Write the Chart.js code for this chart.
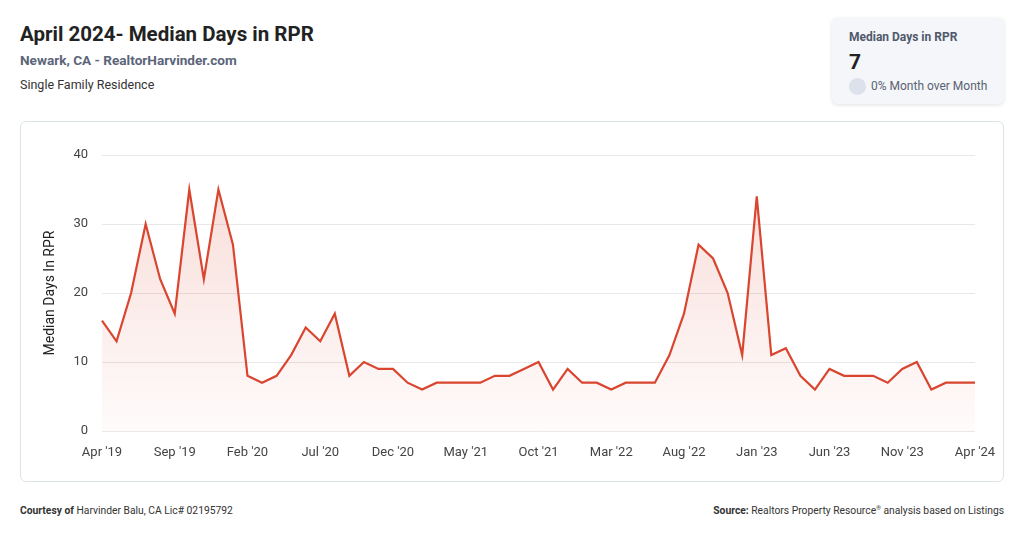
<!DOCTYPE html>
<html>
<head>
<meta charset="utf-8">
<script src="https://cdn.jsdelivr.net/npm/chart.js@4"></script>
<style>
  body { margin: 0; width: 1024px; height: 537px; background: #fff; font-family: Roboto, "Open Sans", sans-serif; position: relative; overflow: hidden; }
  .title { position: absolute; left: 20px; top: 22px; font-size: 20.5px; font-weight: 700; color: #222; }
  .sub { position: absolute; left: 20px; top: 52px; font-size: 13.6px; font-weight: 700; color: #5b6579; }
  .type { position: absolute; left: 20px; top: 77px; font-size: 12.5px; color: #333; }
  .card { position: absolute; left: 832px; top: 18px; width: 172px; height: 86px; background: #f4f6f9; border-radius: 6px; box-shadow: 0 1px 4px rgba(0,0,0,0.12); }
  .card .h { position: absolute; left: 17px; top: 12px; font-size: 12px; font-weight: 700; color: #4f596b; }
  .card .v { position: absolute; left: 17px; top: 32px; font-size: 21px; font-weight: 700; color: #222; }
  .card .dot { position: absolute; left: 17px; top: 60px; width: 17px; height: 17px; border-radius: 50%; background: #dde1ec; }
  .card .m { position: absolute; left: 39px; top: 61px; font-size: 12px; color: #5a6273; }
  .box { position: absolute; left: 20px; top: 121px; width: 982px; height: 359px; border: 1px solid #dde5e4; border-radius: 6px; }
  .wrap { position: absolute; left: 20px; top: 121px; width: 984px; height: 361px; }
  .foot { position: absolute; top: 504px; font-size: 10.3px; color: #333; }
</style>
</head>
<body>
<div class="title">April 2024- Median Days in RPR</div>
<div class="sub">Newark, CA - RealtorHarvinder.com</div>
<div class="type">Single Family Residence</div>
<div class="card">
  <div class="h">Median Days in RPR</div>
  <div class="v">7</div>
  <div class="dot"></div>
  <div class="m">0% Month over Month</div>
</div>
<div class="box"></div>
<div class="wrap"><canvas id="daysChart"></canvas></div>
<div class="foot" style="left:20px"><b>Courtesy of</b> Harvinder Balu, CA Lic# 02195792</div>
<div class="foot" style="right:20px"><b>Source:</b> Realtors Property Resource<sup style="font-size:6px">®</sup> analysis based on Listings</div>
<script>
const months = [
  "Apr '19", "May '19", "Jun '19", "Jul '19", "Aug '19", "Sep '19", "Oct '19", "Nov '19", "Dec '19",
  "Jan '20", "Feb '20", "Mar '20", "Apr '20", "May '20", "Jun '20", "Jul '20", "Aug '20", "Sep '20", "Oct '20", "Nov '20", "Dec '20",
  "Jan '21", "Feb '21", "Mar '21", "Apr '21", "May '21", "Jun '21", "Jul '21", "Aug '21", "Sep '21", "Oct '21", "Nov '21", "Dec '21",
  "Jan '22", "Feb '22", "Mar '22", "Apr '22", "May '22", "Jun '22", "Jul '22", "Aug '22", "Sep '22", "Oct '22", "Nov '22", "Dec '22",
  "Jan '23", "Feb '23", "Mar '23", "Apr '23", "May '23", "Jun '23", "Jul '23", "Aug '23", "Sep '23", "Oct '23", "Nov '23", "Dec '23",
  "Jan '24", "Feb '24", "Mar '24", "Apr '24"
];
const medianDays = [
  16, 13, 20, 30, 22, 17, 35, 22, 35,
  27, 8, 7, 8, 11, 15, 13, 17, 8, 10, 9, 9,
  7, 6, 7, 7, 7, 7, 8, 8, 9, 10, 6, 9,
  7, 7, 6, 7, 7, 7, 11, 17, 27, 25, 20, 11,
  34, 11, 12, 8, 6, 9, 8, 8, 8, 7, 9, 10,
  6, 7, 7, 7
];
const yTicks = [0, 10, 20, 30, 40];

const ctx = document.getElementById("daysChart").getContext("2d");
const daysChart = new Chart(ctx, {
  type: "line",
  data: {
    labels: months,
    datasets: [{
      label: "Median Days In RPR",
      data: medianDays,
      borderColor: "#d9452f",
      borderWidth: 2.2,
      pointRadius: 0,
      tension: 0,
      fill: true,
      backgroundColor: (c) => {
        const area = c.chart.chartArea;
        if (!area) return "rgba(217,69,47,0.1)";
        const g = c.chart.ctx.createLinearGradient(0, area.top, 0, area.bottom);
        g.addColorStop(0, "rgba(217,69,47,0.2)");
        g.addColorStop(1, "rgba(217,69,47,0.02)");
        return g;
      }
    }]
  },
  options: {
    responsive: true,
    maintainAspectRatio: false,
    animation: false,
    layout: { padding: { top: 34, right: 29, bottom: 0, left: 0 } },
    plugins: { legend: { display: false }, tooltip: { enabled: false } },
    scales: {
      x: {
        afterFit: (s) => { s.height = 51; },
        grid: { display: false },
        border: { display: false },
        ticks: {
          autoSkip: false,
          maxRotation: 0,
          padding: 6,
          color: "#444",
          font: { family: "Roboto", size: 13 },
          callback: (v, i) => (i % 5 === 0 ? months[i] : "")
        }
      },
      y: {
        min: 0,
        max: 40,
        afterFit: (s) => { s.width = 82; },
        afterBuildTicks: (s) => { s.ticks = yTicks.map((v) => ({ value: v })); },
        grid: { color: "#e8e8e8", drawTicks: false },
        border: { display: false },
        ticks: { padding: 14, color: "#444", font: { family: "Roboto", size: 13 } },
        title: { display: true, text: "Median Days In RPR", color: "#222", font: { family: "Roboto", size: 14 }, padding: { top: 22, bottom: 0 } }
      }
    }
  }
});
</script>
</body>
</html>
